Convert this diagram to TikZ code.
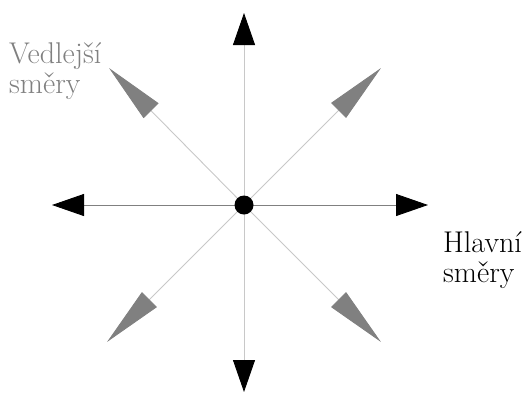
\documentclass[tikz,border=0pt]{standalone}
\usetikzlibrary{arrows.meta}
\definecolor{lightln}{HTML}{C8C8C8}
\definecolor{darkln}{HTML}{808080}
\definecolor{diagtip}{HTML}{808080}
\begin{document}
\begin{tikzpicture}[x=1pt,y=-1pt,
  mainarrow/.style={line width=0.9pt,-{Triangle[length=32pt,width=22pt,color=black]}},
  diagarrow/.style={line width=0.9pt,draw=lightln,-{Triangle[length=60pt,width=21pt,color=diagtip]}},
  lbl/.style={font=\fontsize{30}{32}\selectfont,anchor=base west,inner sep=0pt}]
\useasboundingbox (0,0) rectangle (524,394);
\coordinate (c) at (244,205);
\coordinate (n) at (244,13);
\coordinate (s) at (244,392);
\coordinate (w) at (52,205);
\coordinate (e) at (428,205);
\coordinate (nw) at (109,68);
\coordinate (ne) at (381,68);
\coordinate (sw) at (107,342);
\coordinate (se) at (381,342);
\draw[diagarrow] (c) -- (nw);
\draw[diagarrow] (c) -- (ne);
\draw[diagarrow] (c) -- (sw);
\draw[diagarrow] (c) -- (se);
\draw[mainarrow,draw=lightln] (c) -- (n);
\draw[mainarrow,draw=lightln] (c) -- (s);
\draw[mainarrow,draw=darkln] (c) -- (w);
\draw[mainarrow,draw=darkln] (c) -- (e);
\node[circle,fill=black,minimum size=19pt,inner sep=0pt] (dot) at (c) {};
\node[lbl,text=darkln] (v1) at (9,63) {Vedlejší};
\node[lbl,text=darkln] (v2) at (9,93) {směry};
\node[lbl] (h1) at (443,252) {Hlavní};
\node[lbl] (h2) at (443,282) {směry};
\end{tikzpicture}
\end{document}
